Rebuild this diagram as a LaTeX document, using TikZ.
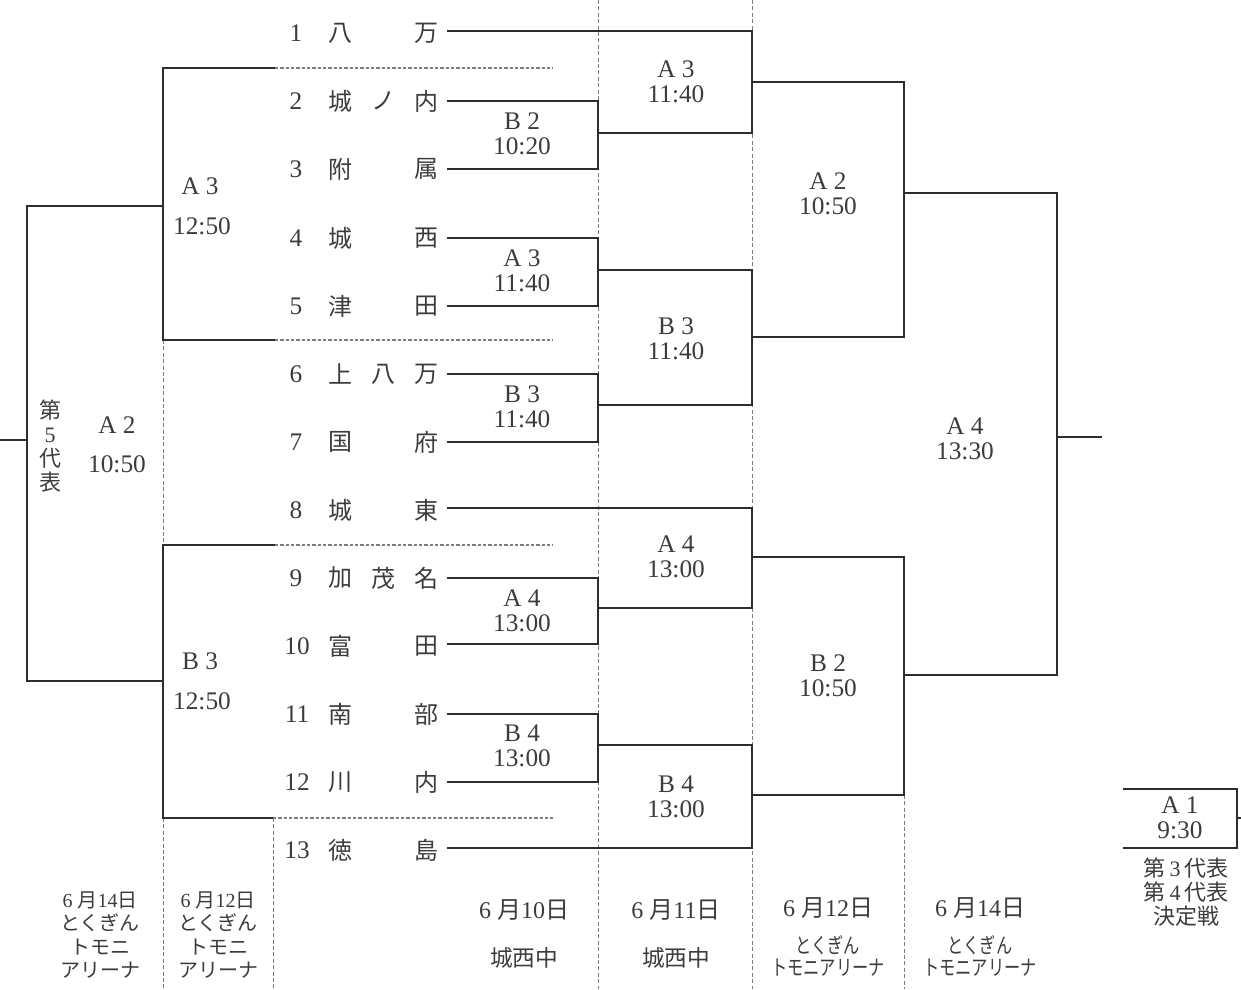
\documentclass[tikz,border=0pt]{standalone}
\usepackage{fontspec}
\setmainfont{Liberation Serif}
\newfontfamily\jp{Noto Sans CJK JP}
\newfontfamily\jpn[FakeStretch=0.76]{Noto Sans CJK JP}
\definecolor{lc}{RGB}{45,45,45}
\definecolor{tc}{RGB}{60,60,60}
\definecolor{sc}{RGB}{125,125,125}
\begin{document}
\begin{tikzpicture}[x=0.75pt,y=-0.75pt,
  ln/.style={draw=lc,line width=1.1pt},
  sepline/.style={draw=sc,line width=0.7pt,dash pattern=on 3pt off 1.8pt},
  dotline/.style={draw=sc,line width=0.9pt,dash pattern=on 2.4pt off 1.6pt},
  num/.style={text=tc,inner sep=0pt,font=\fontsize{19}{19}\selectfont},
  tm/.style={text=tc,inner sep=0pt,font=\jp\fontsize{18}{18}\selectfont},
  mlab/.style={text=tc,inner sep=0pt,align=center,font=\fontsize{19}{18.5}\selectfont},
  blab/.style={text=tc,inner sep=0pt,align=center,font=\fontsize{15}{17.5}\selectfont},
  bdate/.style={text=tc,inner sep=0pt,align=center,font=\fontsize{18}{18}\selectfont},
  bplace/.style={text=tc,inner sep=0pt,align=center,font=\fontsize{17}{17}\selectfont},
  bplace2/.style={text=tc,inner sep=0pt,align=center,font=\fontsize{16}{17}\selectfont}
]
\useasboundingbox (0,0) rectangle (1241,989);

% ---------- column separators ----------
\draw[sepline] (598,0) -- (598,989);
\draw[sepline] (752,0) -- (752,989);
\draw[sepline] (904,795) -- (904,989);
\draw[sepline] (163,340) -- (163,545);
\draw[sepline] (163,818) -- (163,989);
\draw[sepline] (273,818) -- (273,989);

% ---------- team labels ----------
\node[num] (n1) at (296,33) {1};   \node[tm] (a1) at (340,33) {八}; \node[tm] (c1) at (426,33) {万};
\node[num] (n2) at (296,101) {2};  \node[tm] (a2) at (340,101) {城}; \node[tm] (b2) at (383,101) {ノ}; \node[tm] (c2) at (426,101) {内};
\node[num] (n3) at (296,169) {3};  \node[tm] (a3) at (340,169) {附}; \node[tm] (c3) at (426,169) {属};
\node[num] (n4) at (296,238) {4};  \node[tm] (a4) at (340,238) {城}; \node[tm] (c4) at (426,238) {西};
\node[num] (n5) at (296,306) {5};  \node[tm] (a5) at (340,306) {津}; \node[tm] (c5) at (426,306) {田};
\node[num] (n6) at (296,374) {6};  \node[tm] (a6) at (340,374) {上}; \node[tm] (b6) at (383,374) {八}; \node[tm] (c6) at (426,374) {万};
\node[num] (n7) at (296,442) {7};  \node[tm] (a7) at (340,442) {国}; \node[tm] (c7) at (426,442) {府};
\node[num] (n8) at (296,510) {8};  \node[tm] (a8) at (340,510) {城}; \node[tm] (c8) at (426,510) {東};
\node[num] (n9) at (296,578) {9};  \node[tm] (a9) at (340,578) {加}; \node[tm] (b9) at (383,578) {茂}; \node[tm] (c9) at (426,578) {名};
\node[num] (n10) at (297,646) {10}; \node[tm] (a10) at (340,646) {富}; \node[tm] (c10) at (426,646) {田};
\node[num] (n11) at (297,714) {11}; \node[tm] (a11) at (340,714) {南}; \node[tm] (c11) at (426,714) {部};
\node[num] (n12) at (297,782) {12}; \node[tm] (a12) at (340,782) {川}; \node[tm] (c12) at (426,782) {内};
\node[num] (n13) at (297,850) {13}; \node[tm] (a13) at (340,850) {徳}; \node[tm] (c13) at (426,850) {島};

% ---------- bracket points ----------
\coordinate (t1) at (447,31);   \coordinate (t2) at (447,101);  \coordinate (t3) at (447,169);
\coordinate (t4) at (447,238);  \coordinate (t5) at (447,306);  \coordinate (t6) at (447,374);
\coordinate (t7) at (447,442);  \coordinate (t8) at (447,508);  \coordinate (t9) at (447,578);
\coordinate (t10) at (447,644); \coordinate (t11) at (447,714); \coordinate (t12) at (447,782);
\coordinate (t13) at (447,848);

% round 1 (6/10)
\draw[ln] (t2) -- (598,101) -- (598,169) -- (t3);
\draw[ln] (t4) -- (598,238) -- (598,306) -- (t5);
\draw[ln] (t6) -- (598,374) -- (598,442) -- (t7);
\draw[ln] (t9) -- (598,578) -- (598,644) -- (t10);
\draw[ln] (t11) -- (598,714) -- (598,782) -- (t12);

% round 2 (6/11)
\draw[ln] (t1) -- (752,31) -- (752,133) -- (598,133);
\draw[ln] (598,270) -- (752,270) -- (752,405) -- (598,405);
\draw[ln] (t8) -- (752,508) -- (752,608) -- (598,608);
\draw[ln] (598,745) -- (752,745) -- (752,848) -- (t13);

% round 3 (6/12)
\draw[ln] (752,82) -- (904,82) -- (904,337) -- (752,337);
\draw[ln] (752,557) -- (904,557) -- (904,795) -- (752,795);

% final (6/14)
\draw[ln] (904,193) -- (1057,193) -- (1057,675) -- (904,675);
\coordinate (win) at (1102,437);
\draw[ln] (1057,437) -- (win);

% left side (5th place bracket)
\draw[ln] (275,68) -- (163,68) -- (163,340) -- (275,340);
\draw[ln] (275,545) -- (163,545) -- (163,818) -- (273,818);
\draw[dotline] (275,68) -- (553,68);
\draw[dotline] (275,340) -- (553,340);
\draw[dotline] (275,545) -- (553,545);
\draw[dotline] (273,818) -- (553,818);
\draw[ln] (163,206) -- (27,206) -- (27,681) -- (163,681);
\coordinate (fifth) at (0,440);
\draw[ln] (27,440) -- (fifth);

% A1 box (3rd/4th place)
\draw[ln] (1123,789) -- (1237,789) -- (1237,848) -- (1123,848);
\coordinate (a1out) at (1241,818);
\draw[ln] (1237,818) -- (a1out);

% ---------- match labels ----------
\node[mlab] (m1) at (522,134) {B 2\\10:20};
\node[mlab] (m2) at (522,271) {A 3\\11:40};
\node[mlab] (m3) at (522,407) {B 3\\11:40};
\node[mlab] (m4) at (522,611) {A 4\\13:00};
\node[mlab] (m5) at (522,746) {B 4\\13:00};
\node[mlab] (m6) at (676,82) {A 3\\11:40};
\node[mlab] (m7) at (676,339) {B 3\\11:40};
\node[mlab] (m8) at (676,557) {A 4\\13:00};
\node[mlab] (m9) at (676,797) {B 4\\13:00};
\node[mlab] (m10) at (828,194) {A 2\\10:50};
\node[mlab] (m11) at (828,676) {B 2\\10:50};
\node[mlab] (m12) at (965,439) {A 4\\13:30};
\node[mlab] (m13) at (1180,818) {A 1\\9:30};
\node[num] (l1a) at (200,186) {A 3};
\node[num] (l1b) at (202,226) {12:50};
\node[num] (l2a) at (200,661) {B 3};
\node[num] (l2b) at (202,701) {12:50};
\node[num] (l3a) at (117,425) {A 2};
\node[num] (l3b) at (117,464) {10:50};
\node[text=tc,inner sep=0pt,align=center,font=\fontsize{16.5}{18}\selectfont] (fifthlab) at (50,446)
  {{\jp 第}\\5\\{\jp 代}\\{\jp 表}};
\node[text=tc,inner sep=0pt,align=center,font=\fontsize{16.5}{18}\selectfont] (a1lab) at (1186,892)
  {{\jp 第}\,3\,{\jp 代表}\\{\jp 第}\,4\,{\jp 代表}\\{\jp 決定戦}};

% ---------- bottom labels ----------
\node[blab] (d1) at (100,935) {6 {\jp 月}14{\jp 日}\\{\jp とくぎん}\\{\jp トモニ}\\{\jp アリーナ}};
\node[blab] (d2) at (218,935) {6 {\jp 月}12{\jp 日}\\{\jp とくぎん}\\{\jp トモニ}\\{\jp アリーナ}};
\node[bdate] (d3) at (524,910) {6 {\jp 月}10{\jp 日}};
\node[bplace] (d3b) at (524,958) {\jp 城西中};
\node[bdate] (d4) at (676,910) {6 {\jp 月}11{\jp 日}};
\node[bplace] (d4b) at (676,958) {\jp 城西中};
\node[bdate] (d5) at (828,908) {6 {\jp 月}12{\jp 日}};
\node[bplace2] (d5b) at (828,956) {{\jpn とくぎん}\\{\jpn トモニアリーナ}};
\node[bdate] (d6) at (980,908) {6 {\jp 月}14{\jp 日}};
\node[bplace2] (d6b) at (980,956) {{\jpn とくぎん}\\{\jpn トモニアリーナ}};
\end{tikzpicture}
\end{document}
